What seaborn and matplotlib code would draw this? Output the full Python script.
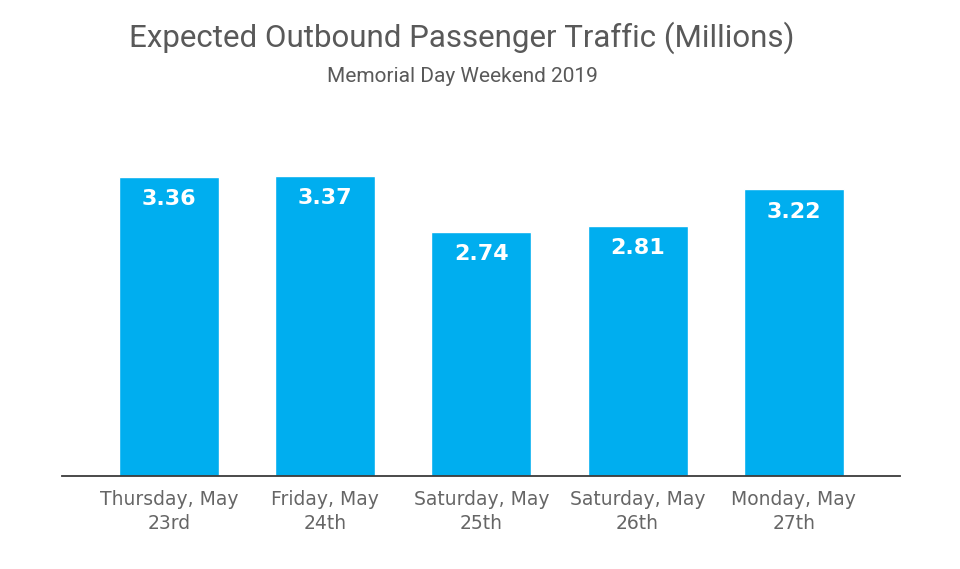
import matplotlib
matplotlib.use("Agg")
import matplotlib.pyplot as plt
import seaborn as sns
import pandas as pd

categories = ["Thursday, May\n23rd", "Friday, May\n24th", "Saturday, May\n25th",
              "Saturday, May\n26th", "Monday, May\n27th"]
values = [3.36, 3.37, 2.74, 2.81, 3.22]
title = "Expected Outbound Passenger Traffic (Millions)"
subtitle = "Memorial Day Weekend 2019"

sns.set_theme(style="white")
plt.rcParams['font.family'] = ['DejaVu Sans']
plt.rcParams['font.sans-serif'] = ['DejaVu Sans']

df = pd.DataFrame({"day": categories, "value": values})

fig = plt.figure(figsize=(9.6, 5.69), dpi=100)
ax = fig.add_axes([62/960, (569-476)/569, (900-62)/960, (476-130)/569])
sns.barplot(data=df, x="day", y="value", color="#00AEEF", saturation=1,
            width=0.64, ax=ax)
ax.set_xlim(-0.685, 4.68)
ax.set_ylim(0, (476-130)/89)
for sp in ["top", "right", "left"]:
    ax.spines[sp].set_visible(False)
ax.spines["bottom"].set_color("#3a3a3a")
ax.spines["bottom"].set_linewidth(1.3)
ax.set_yticks([])
ax.set_xlabel("")
ax.set_ylabel("")
ax.tick_params(axis="x", length=0, pad=10, labelsize=13.5, labelcolor="#666666")
for lbl in ax.get_xticklabels():
    lbl.set_linespacing(1.35)
    lbl.set_family("DejaVu Sans")

for i, v in enumerate(values):
    ax.annotate(f"{v:.2f}", xy=(i, v), xytext=(0, -16), textcoords="offset points",
                ha="center", va="center", color="white", fontsize=16,
                fontweight="bold", family="DejaVu Sans")

fig.text(462/960, 1 - 38/569, title, ha="center", va="center",
         fontsize=22.5, color="#595959", family="Roboto")
fig.text(462/960, 1 - 76/569, subtitle, ha="center", va="center",
         fontsize=15, color="#595959", family="Roboto")

fig.savefig("out.png", dpi=100, facecolor="white")
